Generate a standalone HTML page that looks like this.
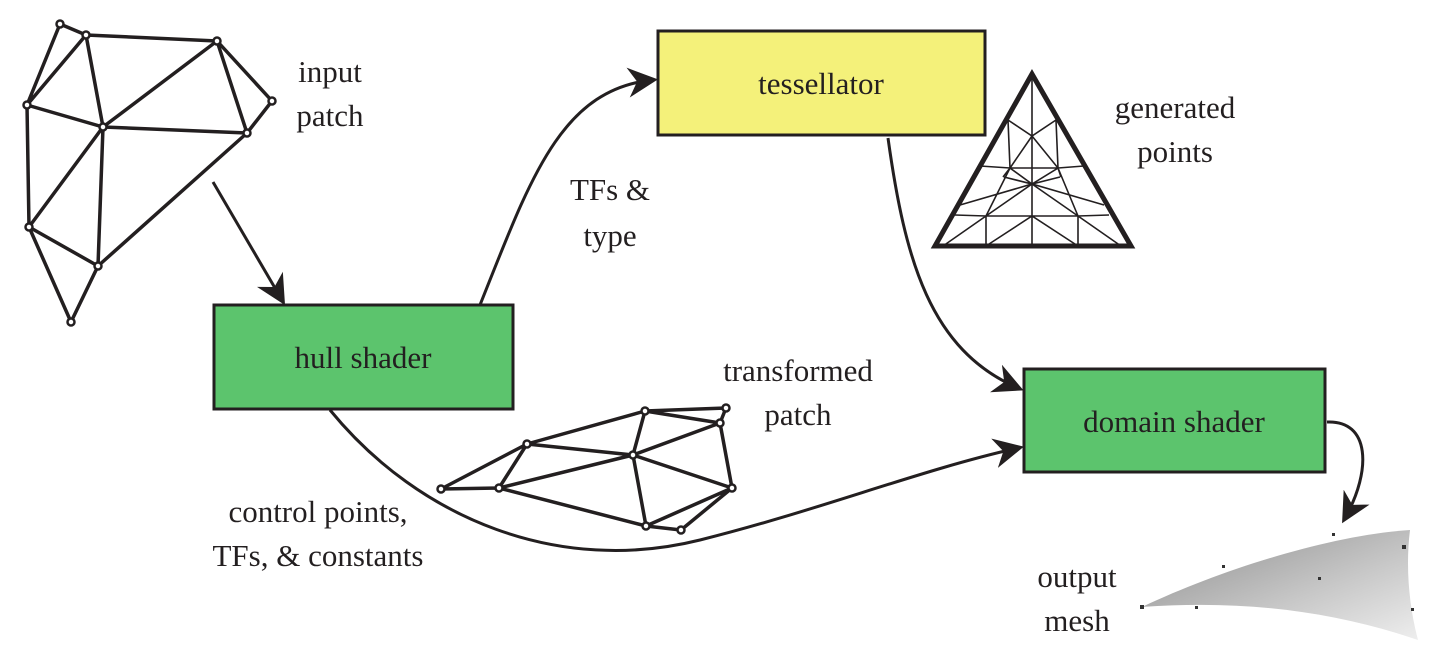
<!DOCTYPE html>
<html><head><style>
html,body{margin:0;padding:0;background:#fff;}
svg{display:block;}
text{font-family:"Liberation Serif",serif;font-size:31px;fill:#231f20;}
</style></head><body>
<svg width="1434" height="669" viewBox="0 0 1434 669" xmlns="http://www.w3.org/2000/svg">
<defs>
<marker id="ah" markerWidth="10" markerHeight="10" refX="8" refY="5" orient="auto" markerUnits="strokeWidth">
<path d="M0,0 L10,5 L0,10 L3,5 Z" fill="#231f20"/>
</marker>
<linearGradient id="mg" x1="0" y1="0" x2="1" y2="1">
<stop offset="0" stop-color="#8a8a8a"/><stop offset="0.6" stop-color="#c8c8c8"/><stop offset="1" stop-color="#eeeeee"/>
</linearGradient>
</defs>
<!-- input patch -->
<g stroke="#231f20" stroke-width="3.5" fill="none">
<path d="M60,24L86,35 M60,24L27,105 M86,35L27,105 M86,35L217,41 M86,35L103,127 M217,41L103,127 M217,41L247,133 M217,41L272,101 M272,101L247,133 M27,105L103,127 M103,127L247,133 M27,105L29,227 M103,127L29,227 M103,127L98,266 M29,227L98,266 M98,266L247,133 M29,227L71,322 M98,266L71,322"/>
</g>
<g fill="#fff" stroke="#231f20" stroke-width="2.5">
<circle cx="60" cy="24" r="3.5"/><circle cx="86" cy="35" r="3.5"/><circle cx="217" cy="41" r="3.5"/><circle cx="272" cy="101" r="3.5"/><circle cx="247" cy="133" r="3.5"/><circle cx="103" cy="127" r="3.5"/><circle cx="27" cy="105" r="3.5"/><circle cx="29" cy="227" r="3.5"/><circle cx="98" cy="266" r="3.5"/><circle cx="71" cy="322" r="3.5"/>
</g>
<!-- transformed patch -->
<g stroke="#231f20" stroke-width="3.5" fill="none">
<path d="M441,489L527,444 M441,489L499,488 M499,488L527,444 M527,444L645,411 M645,411L726,408 M645,411L720,423 M726,408L720,423 M527,444L633,455 M499,488L633,455 M499,488L646,526 M645,411L633,455 M633,455L720,423 M633,455L646,526 M633,455L732,488 M720,423L732,488 M732,488L646,526 M732,488L681,530 M646,526L681,530"/>
</g>
<g fill="#fff" stroke="#231f20" stroke-width="2.5">
<circle cx="441" cy="489" r="3.5"/><circle cx="499" cy="488" r="3.5"/><circle cx="527" cy="444" r="3.5"/><circle cx="645" cy="411" r="3.5"/><circle cx="726" cy="408" r="3.5"/><circle cx="720" cy="423" r="3.5"/><circle cx="633" cy="455" r="3.5"/><circle cx="732" cy="488" r="3.5"/><circle cx="646" cy="526" r="3.5"/><circle cx="681" cy="530" r="3.5"/>
</g>
<!-- triangle -->
<g stroke="#231f20" fill="none">
<path stroke-width="1.6" d="M1032,74L1032,246 M1008,120L1032,136L1056,120 M1008,120L1010,168 M1056,120L1058,168 M1032,136L1010,168L1032,184L1058,168L1032,136 M1003,177L1010,168 M1061,177L1058,168 M1004,177L1032,184L1060,177 M980,166L1010,168 M1084,166L1058,168 M960,205L1032,184L1104,205 M955,215L986,216L1032,184 M1109,215L1078,216L1032,184 M986,216L1078,216 M986,216L986,246 M1078,216L1078,246 M943,246L986,216 M1121,246L1078,216 M986,246L1032,216L1078,246 M1032,184L986,216 M1010,168L986,216 M1058,168L1078,216 M980,166L1010,168 M1010,168L1058,168"/>
<path stroke-width="5" stroke-linejoin="miter" d="M1032,74L935,246L1131,246Z"/>
</g>
<!-- boxes -->
<rect x="658" y="31" width="327" height="104" fill="#f4f17a" stroke="#231f20" stroke-width="3"/>
<rect x="214" y="305" width="299" height="104" fill="#5cc46d" stroke="#231f20" stroke-width="3"/>
<rect x="1024" y="369" width="301" height="103" fill="#5cc46d" stroke="#231f20" stroke-width="3"/>
<text x="821" y="94" text-anchor="middle">tessellator</text>
<text x="363" y="368" text-anchor="middle">hull shader</text>
<text x="1174" y="432" text-anchor="middle">domain shader</text>
<!-- arrows -->
<g stroke="#231f20" stroke-width="3" fill="none" marker-end="url(#ah)">
<path d="M213,182 L282,300"/>
<path d="M480,305 C530,180 560,90 652,80"/>
<path d="M888,138 C905,260 930,350 1018,388"/>
<path d="M330,410 C420,520 560,575 700,540 C820,510 920,470 1018,448"/>
<path d="M1327,422 C1370,420 1372,470 1345,518"/>
</g>
<!-- output mesh -->
<path d="M1142,607 C1220,570 1330,535 1410,530 C1405,570 1410,610 1418,640 C1330,610 1240,600 1142,607Z" fill="url(#mg)"/>
<g fill="#333"><rect x="1140" y="605" width="4" height="4"/><rect x="1332" y="533" width="3" height="3"/><rect x="1402" y="545" width="4" height="4"/><rect x="1318" y="577" width="3" height="3"/><rect x="1195" y="606" width="3" height="3"/><rect x="1222" y="565" width="3" height="3"/><rect x="1411" y="608" width="3" height="3"/></g>
<!-- labels -->
<text x="330" y="82" text-anchor="middle">input</text>
<text x="330" y="126" text-anchor="middle">patch</text>
<text x="1175" y="118" text-anchor="middle">generated</text>
<text x="1175" y="162" text-anchor="middle">points</text>
<text x="610" y="200" text-anchor="middle">TFs &amp;</text>
<text x="610" y="246" text-anchor="middle">type</text>
<text x="798" y="381" text-anchor="middle">transformed</text>
<text x="798" y="425" text-anchor="middle">patch</text>
<text x="318" y="522" text-anchor="middle">control points,</text>
<text x="318" y="566" text-anchor="middle">TFs, &amp; constants</text>
<text x="1077" y="587" text-anchor="middle">output</text>
<text x="1077" y="631" text-anchor="middle">mesh</text>
</svg>
</body></html>
